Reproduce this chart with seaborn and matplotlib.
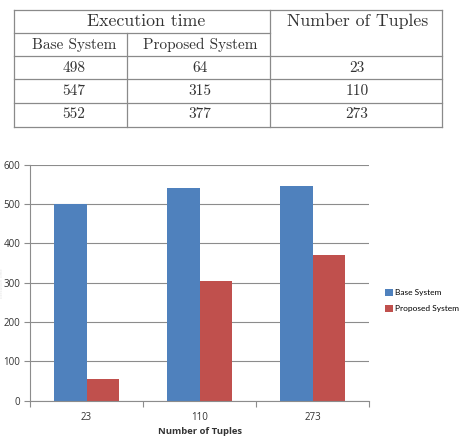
import matplotlib
matplotlib.use("Agg")
import matplotlib.pyplot as plt
import seaborn as sns
import pandas as pd
from matplotlib.lines import Line2D
from matplotlib.patches import Patch

# ---- Table data ----
table_base = ["498", "547", "552"]
table_proposed = ["64", "315", "377"]
table_tuples = ["23", "110", "273"]

# ---- Chart data (as drawn) ----
categories = ["23", "110", "273"]
base_values = [500, 542, 545]
proposed_values = [55, 305, 370]
series_names = ["Base System", "Proposed System"]
colors = ["#4F81BD", "#C0504D"]
yticks = [0, 100, 200, 300, 400, 500, 600]

W, H = 461, 438
fig = plt.figure(figsize=(W / 100, H / 100), dpi=100)
fig.patch.set_facecolor("white")

def fx(x):
    return x / W

def fy(y):
    return 1 - y / H

# ---- Table drawn with figure lines/text ----
lc = "#8a8a8a"
def hline(x0, x1, y):
    fig.add_artist(Line2D([fx(x0), fx(x1)], [fy(y), fy(y)], color=lc, lw=0.9))

def vline(x, y0, y1):
    fig.add_artist(Line2D([fx(x), fx(x)], [fy(y0), fy(y1)], color=lc, lw=0.9))

L, R, T, B = 14.3, 441.7, 10.3, 126.7
hline(L, R, T)
hline(L, R, B)
hline(L, 270, 32.7)
hline(L, R, 56)
hline(L, R, 79.3)
hline(L, R, 102.7)
vline(L, T, B)
vline(R, T, B)
vline(270, T, B)
vline(126.7, 32.7, B)

serif = "cmr10"
tc = "#333333"
fig.text(fx(145.7), fy(21), "Execution time", ha="center", va="center",
         fontsize=12.8, family=serif, color=tc)
fig.text(fx(358), fy(21), "Number of Tuples", ha="center", va="center",
         fontsize=12.8, family=serif, color=tc)
fig.text(fx(74), fy(44.5), "Base System", ha="center", va="center",
         fontsize=11, family=serif, color=tc)
fig.text(fx(200), fy(44.5), "Proposed System", ha="center", va="center",
         fontsize=11, family=serif, color=tc)
row_y = [68, 91, 114.3]
for i in range(3):
    fig.text(fx(74), fy(row_y[i]), table_base[i], ha="center", va="center",
             fontsize=11, family=serif, color=tc)
    fig.text(fx(200), fy(row_y[i]), table_proposed[i], ha="center", va="center",
             fontsize=11, family=serif, color=tc)
    fig.text(fx(357), fy(row_y[i]), table_tuples[i], ha="center", va="center",
             fontsize=11, family=serif, color=tc)

# ---- Bar chart ----
df = pd.DataFrame({
    "Number of Tuples": categories * 2,
    "value": base_values + proposed_values,
    "series": [series_names[0]] * 3 + [series_names[1]] * 3,
})

ax = fig.add_axes([fx(30), fy(400.7), fx(369 - 30), (400.7 - 164.7) / H])
sns.barplot(data=df, x="Number of Tuples", y="value", hue="series",
            palette=colors, width=0.57, ax=ax, legend=False,
            saturation=1, edgecolor="none")
ax.set_ylim(0, 600)
ax.set_xlim(-0.5, 2.5)
ax.set_yticks(yticks)
ax.set_yticklabels([str(v) for v in yticks], fontsize=7, color="#333333",
                   family="Open Sans")
ax.yaxis.grid(True, color="#8c8c8c", lw=0.8)
ax.set_axisbelow(True)
ax.tick_params(axis="y", length=4, color="#8c8c8c", pad=3)

ax.set_xticks([-0.5, 0.5, 1.5, 2.5])
ax.set_xticklabels([])
ax.set_xticks([0, 1, 2], minor=True)
ax.set_xticklabels(categories, minor=True, fontsize=7, color="#333333",
                   family="Open Sans")
ax.tick_params(axis="x", which="major", length=4, color="#8c8c8c")
ax.tick_params(axis="x", which="minor", length=0, pad=8)

for s in ["top", "right"]:
    ax.spines[s].set_visible(False)
for s in ["left", "bottom"]:
    ax.spines[s].set_color("#8c8c8c")
    ax.spines[s].set_linewidth(0.8)

ax.set_ylabel("")
ax.set_xlabel("Number of Tuples", fontsize=6.8, fontweight="bold",
              color="#333333", family="Open Sans", labelpad=3)

fig.text(0.0, fy(283), "Execution Time", rotation=90, ha="left",
         va="center", fontsize=3, color="#e2e2e2", family="Open Sans")

handles = [Patch(facecolor=c, edgecolor="none") for c in colors]
fig.legend(handles, series_names, loc="center left",
           bbox_to_anchor=(fx(385), fy(300.5)), frameon=False,
           handlelength=0.9, handleheight=0.9, borderaxespad=0,
           handletextpad=0.3, labelspacing=1.05, borderpad=0,
           prop={"family": "Lato", "size": 6.0})

fig.savefig("out.png", dpi=100, facecolor="white")
